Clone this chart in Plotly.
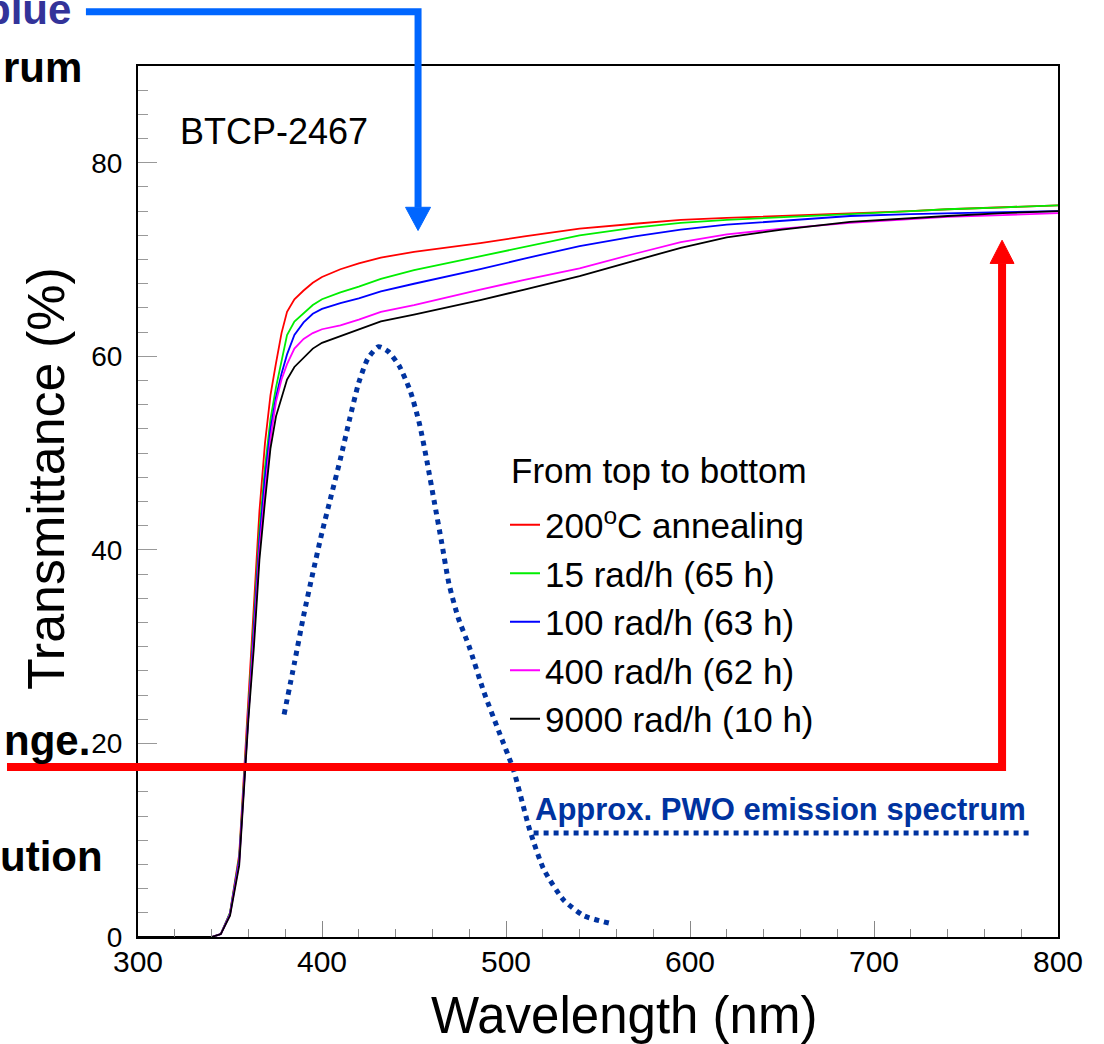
import plotly.graph_objects as go

# ---------------- data ----------------
wavelength = [300, 340, 345, 350, 355, 358, 360, 363, 366, 369, 372, 375, 378, 381, 385,
              390, 395, 400, 410, 420, 432, 450, 470, 486, 510, 540, 570, 595, 620, 650,
              687, 720, 740, 770, 800]

t_anneal = [0, 0, 0.3, 2.5, 8.5, 18, 25, 34, 44, 51, 56, 59.3, 62.4, 64.6, 65.9,
            66.8, 67.6, 68.2, 69.0, 69.6, 70.2, 70.8, 71.3, 71.7, 72.4, 73.2, 73.7, 74.1, 74.3, 74.5,
            74.8, 75.0, 75.2, 75.4, 75.6]
t_15 = [0, 0, 0.3, 2.5, 8.2, 17.5, 24, 33, 42, 48.5, 53.5, 56.8, 59.5, 62.2, 63.6,
        64.5, 65.3, 65.9, 66.6, 67.2, 68.0, 68.9, 69.7, 70.3, 71.3, 72.5, 73.3, 73.8, 74.1, 74.4,
        74.7, 75.0, 75.2, 75.4, 75.6]
t_100 = [0, 0, 0.3, 2.4, 8.0, 17.3, 23.5, 32, 41, 47.5, 52.5, 55.8, 58.2, 60.2, 62.2,
         63.5, 64.4, 64.9, 65.5, 66.0, 66.7, 67.5, 68.3, 69.0, 70.1, 71.4, 72.4, 73.1, 73.6, 74.0,
         74.5, 74.7, 74.8, 74.9, 75.0]
t_400 = [0, 0, 0.3, 2.3, 7.7, 17, 23, 31, 40, 46, 51.5, 55.3, 57.6, 59.2, 60.8,
         61.8, 62.4, 62.8, 63.2, 63.8, 64.6, 65.3, 66.2, 66.9, 67.9, 69.1, 70.6, 71.8, 72.6, 73.2,
         73.8, 74.2, 74.4, 74.6, 74.8]
t_9000 = [0, 0, 0.3, 2.2, 7.4, 16.5, 22.5, 30, 39, 45, 50.5, 53.8, 55.7, 57.6, 58.9,
          59.8, 60.8, 61.4, 62.1, 62.8, 63.6, 64.3, 65.1, 65.8, 66.9, 68.3, 69.9, 71.2, 72.3, 73.1,
          73.9, 74.3, 74.5, 74.8, 75.0]

series_names = ["200<sup>o</sup>C annealing", "15 rad/h (65 h)", "100 rad/h (63 h)",
                "400 rad/h (62 h)", "9000 rad/h (10 h)"]
series_values = [t_anneal, t_15, t_100, t_400, t_9000]
series_colors = ["#ff0000", "#00ee00", "#0000ff", "#ff00ff", "#000000"]
legend_title = "From top to bottom"

# approximate PWO emission spectrum (arbitrary scale, drawn on the same axes)
emission_wl = [379.4, 385, 390, 395, 400, 405, 410, 415, 420, 425, 430.7, 436, 442, 448, 453,
               457, 461, 465, 469, 474, 480, 488, 496, 504, 513, 520.5, 531.4, 542.3, 556.8]
emission_val = [23.0, 28.3, 33.2, 37.6, 41.8, 45.6, 49.4, 53.5, 57.3, 59.8, 61.0, 60.5, 59.0, 56.4, 53.0,
                 49.2, 45.0, 40.8, 36.5, 33.0, 30.0, 25.3, 21.3, 17.3, 11.0, 7.0, 3.8, 2.2, 1.4]
emission_key_wl = [515, 785]
emission_key_val = [10.75, 10.75]

x_ticks = [300, 400, 500, 600, 700, 800]
y_ticks = [0, 20, 40, 60, 80]

X_RANGE = [300, 800]
Y_RANGE = [0, 90]

# annotation arrows (data coordinates, may lie outside the frame)
blue_arrow = [(271.7, 95.6), (452.2, 95.6), (452.2, 75.4)]
blue_head = [(445.4, 75.4), (459.0, 75.4), (452.2, 73.0)]
red_arrow = [(228.8, 17.57), (769.6, 17.57), (769.6, 69.6)]
red_head = [(763.1, 69.6), (776.1, 69.6), (769.6, 72.0)]

FONT = "Liberation Sans, Arial, Helvetica, sans-serif"

W, H = 1104, 1044
ML, MR, MT, MB = 138, 46, 66, 107
PW, PH = W - ML - MR, H - MT - MB


def xp(x):
    return (x - X_RANGE[0]) / (X_RANGE[1] - X_RANGE[0])


def yp(y):
    return (y - Y_RANGE[0]) / (Y_RANGE[1] - Y_RANGE[0])


def pxx(px):
    return (px - ML) / PW


def pxy(py):
    return (H - MB - py) / PH


def path(points, close=False):
    s = "M " + " L ".join(f"{xp(a):.5f},{yp(b):.5f}" for a, b in points)
    return s + (" Z" if close else "")


fig = go.Figure()

for name, vals, col in zip(series_names, series_values, series_colors):
    fig.add_trace(go.Scatter(x=wavelength, y=vals, mode="lines", name=name,
                             legendgroup=name,
                             line=dict(color=col, width=1.8)))

fig.add_trace(go.Scatter(x=emission_wl, y=emission_val, mode="lines", showlegend=False,
                         line=dict(color="#0033a0", width=5, dash="5px,5px", shape="spline",
                                   smoothing=0.6)))
fig.add_trace(go.Scatter(x=emission_key_wl, y=emission_key_val, mode="lines", showlegend=False,
                         line=dict(color="#0033a0", width=5, dash="5px,5px")))

shapes = [
    dict(type="path", xref="paper", yref="paper", path=path(blue_arrow),
         line=dict(color="#0066ff", width=7), layer="above"),
    dict(type="path", xref="paper", yref="paper", path=path(blue_head, True),
         fillcolor="#0066ff", line=dict(color="#0066ff", width=1), layer="above"),
    dict(type="path", xref="paper", yref="paper", path=path(red_arrow),
         line=dict(color="#ff0000", width=8), layer="above"),
    dict(type="path", xref="paper", yref="paper", path=path(red_head, True),
         fillcolor="#ff0000", line=dict(color="#ff0000", width=1), layer="above"),
]

annotations = [
    dict(text="BTCP-2467", xref="paper", yref="paper", x=pxx(178), y=pxy(131),
         xanchor="left", yanchor="middle", showarrow=False,
         font=dict(family=FONT, size=36, color="black")),
    dict(text=legend_title, xref="paper", yref="paper", x=pxx(509), y=pxy(471),
         xanchor="left", yanchor="middle", showarrow=False,
         font=dict(family=FONT, size=35, color="black")),
    dict(text="<b>Approx. PWO emission spectrum</b>", xref="paper", yref="paper",
         x=pxx(533), y=pxy(809), xanchor="left", yanchor="middle", showarrow=False,
         font=dict(family=FONT, size=31, color="#0033a0")),
    dict(text="Wavelength (nm)", xref="paper", yref="paper", x=pxx(624), y=pxy(1015),
         xanchor="center", yanchor="middle", showarrow=False,
         font=dict(family=FONT, size=51, color="black")),
    dict(text="Transmittance (%)", xref="paper", yref="paper", x=pxx(46), y=pxy(479),
         xanchor="center", yanchor="middle", showarrow=False, textangle=-90,
         font=dict(family=FONT, size=52, color="black")),
    # fragments of the surrounding slide text
    dict(text="<b>blue</b>", xref="paper", yref="paper", x=pxx(73), y=pxy(10),
         xanchor="right", yanchor="middle", showarrow=False,
         font=dict(family=FONT, size=42, color="#333399")),
    dict(text="<b>rum</b>", xref="paper", yref="paper", x=pxx(84), y=pxy(68),
         xanchor="right", yanchor="middle", showarrow=False,
         font=dict(family=FONT, size=42, color="black")),
    dict(text="<b>nge.</b>", xref="paper", yref="paper", x=pxx(92), y=pxy(741),
         xanchor="right", yanchor="middle", showarrow=False,
         font=dict(family=FONT, size=42, color="black")),
    dict(text="<b>ution</b>", xref="paper", yref="paper", x=pxx(105), y=pxy(856),
         xanchor="right", yanchor="middle", showarrow=False,
         font=dict(family=FONT, size=42, color="black")),
]

fig.update_layout(
    width=W, height=H,
    margin=dict(l=ML, r=MR, t=MT, b=MB, pad=0),
    paper_bgcolor="white", plot_bgcolor="white",
    font=dict(family=FONT, color="black"),
    shapes=shapes, annotations=annotations,
    showlegend=True,
    legend=dict(x=pxx(505), y=pxy(622), xanchor="left", yanchor="middle",
                bgcolor="rgba(0,0,0,0)", borderwidth=0,
                font=dict(family=FONT, size=35, color="black"),
                tracegroupgap=0, itemwidth=30),
    xaxis=dict(range=X_RANGE, tickvals=x_ticks, ticks="inside", ticklen=16, tickwidth=1,
               tickcolor="#888888", showline=True, mirror=True, linecolor="black", linewidth=2,
               showgrid=False, zeroline=False, ticklabelstandoff=-3,
               tickfont=dict(family=FONT, size=30, color="black"),
               minor=dict(dtick=20, tick0=300, ticks="inside", ticklen=8, tickcolor="#888888",
                          tickwidth=1, showgrid=False)),
    yaxis=dict(range=Y_RANGE, tickvals=y_ticks, ticks="inside", ticklen=19, tickwidth=1,
               tickcolor="#999999", showline=True, mirror=True, linecolor="black", linewidth=2,
               showgrid=False, zeroline=False, ticklabelstandoff=8,
               tickfont=dict(family=FONT, size=28, color="black"),
               minor=dict(dtick=2.5, tick0=0, ticks="inside", ticklen=10, tickcolor="#999999",
                          tickwidth=1, showgrid=False)),
)

fig.write_html("out.html")
